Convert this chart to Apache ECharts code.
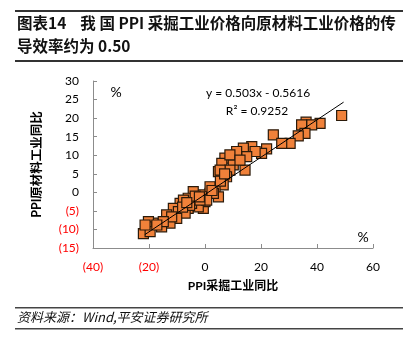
<!DOCTYPE html>
<html><head><meta charset="utf-8">
<script src="https://cdn.jsdelivr.net/npm/echarts@6/dist/echarts.min.js"></script>
<style>html,body{margin:0;padding:0;background:#fff}#c{width:413px;height:353px}</style>
</head><body><div id="c"></div>
<script>
var titleLine1 = '图表14    我 国 PPI 采掘工业价格向原材料工业价格的传';
var titleLine2 = '导效率约为 0.50';
var sourceText = '资料来源：Wind,平安证券研究所';
var xAxisName = 'PPI采掘工业同比';
var yAxisName = 'PPI原材料工业同比';
var eqText1 = 'y = 0.503x - 0.5616';
var eqText2 = 'R² = 0.9252';
var xMin = -40, xMax = 60, xStep = 20;
var yMin = -15, yMax = 30, yStep = 5;
// scatter points [PPI mining yoy, PPI raw material yoy]
var points = [
 [48.8,20.7],[36.1,18.9],[41.1,18.6],[38.1,18.2],[34.5,18.2],[35.7,15.9],[33.3,15.2],
 [24.4,15.5],[30.4,13.2],[27.4,13.2],[22.0,11.7],[20.2,10.5],[16.7,12.3],[13.7,11.9],
 [17.9,11.0],[14.9,9.6],[10.1,9.8],[11.3,11.0],[7.1,9.2],[10.1,7.4],[6.0,7.8],[4.8,5.6],
 [8.9,6.0],[14.3,6.0],[7.7,4.2],[6.5,2.0],[3.6,1.1],[1.8,-0.3],[4.8,-1.2],[-1.2,-0.7],
 [-4.2,0.2],[-6.0,-1.6],[-3.0,-2.5],[-0.6,-4.3],[-8.9,-3.0],[-11.3,-4.3],[-9.5,-5.2],
 [-6.0,-4.3],[-7.1,-5.6],[-13.7,-6.1],[-10.1,-7.0],[-12.5,-8.3],[-15.5,-9.3],[-18.5,-8.3],
 [-20.2,-7.9],[-20.8,-9.3],[-22.0,-11.1],[-19.6,-10.6],[8.9,10.1],[12.5,8.7],[5.4,6.0],
 [3.0,-0.3],[0.0,-2.5],[-2.4,-3.9],[-4.8,-3.0],[-7.7,-2.1],[-11.9,-6.6],[-14.9,-7.9],
 [-17.2,-8.8],[-21.4,-8.8],[1.8,1.5],[0.6,-2.1],[-1.8,-2.1],
 [-5.5,-3.5],[-3.5,-1.0],[-8.0,-4.0],[-2.0,-1.2],[-6.5,-2.8],[2.5,0.5],[5.5,3.0],[7.0,5.0]
];
// linear trendline endpoints as drawn
var trendLine = [[-21.5,-11.4],[49.5,24.3]];

function fmt(v){ return v < 0 ? '(' + (-v) + ')' : String(v); }
function col(v){ return v < 0 ? '#FF0000' : '#000000'; }
var chart = echarts.init(document.getElementById('c'), null, {renderer:'canvas'});
var font = 'Lato, "Noto Sans CJK SC", sans-serif';
chart.setOption({
  animation:false,
  backgroundColor:'#fff',
  grid:{left:93, right:40, top:81, bottom:105},
  xAxis:{
    type:'value', min:xMin, max:xMax, interval:xStep,
    name:xAxisName, nameLocation:'middle', nameGap:32,
    nameTextStyle:{fontWeight:'bold', fontSize:12, color:'#000', fontFamily:font},
    axisLine:{onZero:false, lineStyle:{color:'#8c8c8c'}},
    axisTick:{inside:true, length:4, lineStyle:{color:'#8c8c8c'}},
    splitLine:{show:false},
    axisLabel:{margin:13, fontSize:12, fontFamily:font, formatter:fmt, color:function(v){return col(Number(v));}}
  },
  yAxis:{
    type:'value', min:yMin, max:yMax, interval:yStep,
    name:yAxisName, nameLocation:'middle', nameGap:50, nameRotate:90,
    nameTextStyle:{fontWeight:'bold', fontSize:12.5, color:'#000', fontFamily:font},
    axisLine:{show:true, onZero:false, lineStyle:{color:'#8c8c8c'}},
    axisTick:{show:true, inside:true, length:4, lineStyle:{color:'#8c8c8c'}},
    splitLine:{show:false},
    axisLabel:{margin:14, fontSize:12, fontFamily:font, formatter:fmt, color:function(v){return col(Number(v));}}
  },
  series:[
    {type:'scatter', data:points, symbol:'rect', symbolSize:10,
     itemStyle:{color:'#F0813A', borderColor:'#2a1a0a', borderWidth:1.2, opacity:1}, z:2},
    {type:'line', data:trendLine, symbol:'none', lineStyle:{color:'#000', width:1}, z:3}
  ],
  graphic:[
    {type:'rect', shape:{x:15,y:10,width:388,height:2}, style:{fill:'#333'}},
    {type:'rect', shape:{x:15,y:60,width:388,height:2}, style:{fill:'#333'}},
    {type:'text', left:17, top:15, style:{text:titleLine1, font:'bold 15.5px "Noto Sans CJK SC", sans-serif', fill:'#111'}},
    {type:'text', left:17, top:38, style:{text:titleLine2, font:'bold 15.5px "Noto Sans CJK SC", sans-serif', fill:'#111'}},
    {type:'rect', shape:{x:15,y:307,width:388,height:1.5}, style:{fill:'#444'}},
    {type:'rect', shape:{x:15,y:328,width:388,height:1.5}, style:{fill:'#444'}},
    {type:'text', left:17, top:311, style:{text:sourceText, font:'italic 13px "Noto Sans CJK SC", sans-serif', fill:'#111'}},
    {type:'text', x:116, y:92, style:{text:'%', font:'14px '+font, fill:'#000', textAlign:'center', textVerticalAlign:'middle'}},
    {type:'text', x:363, y:237, style:{text:'%', font:'14px '+font, fill:'#000', textAlign:'center', textVerticalAlign:'middle'}},
    {type:'text', x:258, y:93, style:{text:eqText1, font:'12px '+font, fill:'#000', textAlign:'center', textVerticalAlign:'middle'}},
    {type:'text', x:257, y:111, style:{text:eqText2, font:'12px '+font, fill:'#000', textAlign:'center', textVerticalAlign:'middle'}}
  ]
});
</script></body></html>
